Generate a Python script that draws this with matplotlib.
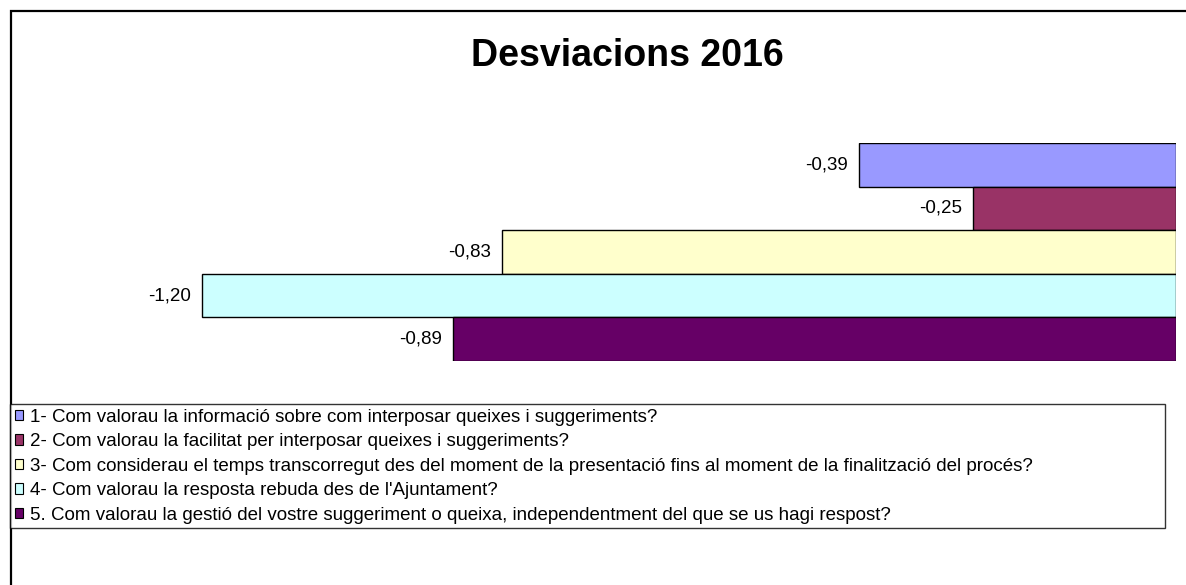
import numpy as np
import matplotlib
matplotlib.use('Agg')
import matplotlib.pyplot as plt
from matplotlib.patches import Patch, Rectangle

plt.rcParams['font.family'] = ['Liberation Sans', 'DejaVu Sans']

# dades
preguntes = ['1- Com valorau la informació sobre com interposar queixes i suggeriments?',
             '2- Com valorau la facilitat per interposar queixes i suggeriments?',
             '3- Com considerau el temps transcorregut des del moment de la presentació fins al moment de la finalització del procés?',
             "4- Com valorau la resposta rebuda des de l'Ajuntament?",
             '5. Com valorau la gestió del vostre suggeriment o queixa, independentment del que se us hagi respost?']
desviacions = [-0.39, -0.25, -0.83, -1.20, -0.89]
colors = ['#9999FF', '#993366', '#FFFFCC', '#CCFFFF', '#660066']

W, H = 1186, 585
fig = plt.figure(figsize=(W / 100, H / 100), dpi=100, facecolor='white')

# marc exterior
fig.patches.append(Rectangle((11 / W, -0.1), 1.2, (H - 11) / H + 0.1, transform=fig.transFigure,
                             fill=False, edgecolor='black', linewidth=1.6))

ax = fig.add_axes([80 / W, 1 - 361 / H, (1176 - 80) / W, 218 / H])
y = np.arange(len(desviacions))
ax.barh(y, desviacions, height=1.0, color=colors, edgecolor='black', linewidth=1)
for yi, v in zip(y, desviacions):
    ax.annotate(f'{v:.2f}'.replace('.', ','), (v, yi), xytext=(-8, 0), textcoords='offset points',
                ha='right', va='center', fontsize=13.5)
ax.set_xlim(-1.35, 0.0)
ax.set_ylim(len(desviacions) - 0.5, -0.5)
ax.axis('off')

fig.text(627 / W, 1 - 56 / H, 'Desviacions 2016', ha='center', va='center',
         fontsize=27, fontweight='bold')

handles = [Patch(facecolor=c, edgecolor='black', linewidth=0.8) for c in colors]
leg = fig.legend(handles, preguntes, loc='upper left',
                 bbox_to_anchor=(10 / W, 1 - 527 / H, 1155 / W, 123 / H), mode='expand',
                 frameon=True, fancybox=False, edgecolor='black', fontsize=13.5,
                 handlelength=0.45, handleheight=0.45, handletextpad=0.35,
                 labelspacing=0.4, borderpad=0.25, borderaxespad=0)
leg.get_frame().set_linewidth(1)

fig.savefig('out.png', dpi=100, facecolor='white')
